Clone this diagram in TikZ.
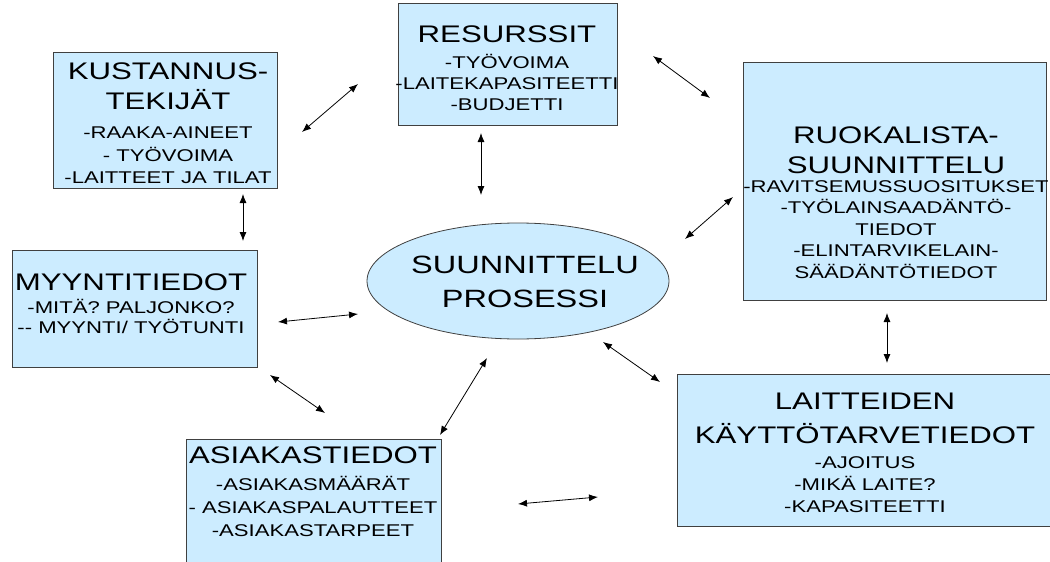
\documentclass[tikz,border=0pt]{standalone}
\usepackage{fontspec}
\setmainfont{Liberation Sans}[FakeStretch=1.3]
\usetikzlibrary{arrows.meta,shapes.geometric}

\definecolor{boxblue}{RGB}{204,236,255}
\newcommand{\listfont}{\fontsize{17}{21}\selectfont}

\tikzset{
	box/.style = {draw = black!75, fill = boxblue, line width = 0.8pt, inner sep = 0pt},
	boxtext/.style = {align = center, inner sep = 0pt, anchor = base, font = \fontsize{24}{30}\selectfont},
	arr/.style = {{Latex[length = 9pt, width = 7pt]}-{Latex[length = 9pt, width = 7pt]}, line width = 0.8pt}
}

\begin{document}
\begin{tikzpicture}[x = 1pt, y = -1pt]
		\useasboundingbox (0, 0) rectangle (1050, 562);
		\node[box, minimum width = 224pt, minimum height = 136pt] (kust) at (165, 120) {};
			\node[boxtext] (kusttext) at (168, 183) {KUSTANNUS-\\TEKIJÄT\\[-1pt]{\listfont -RAAKA-AINEET}\\[-7pt]{\listfont - TYÖVOIMA}\\[-8pt]{\listfont -LAITTEET JA TILAT}};
		\node[box, minimum width = 219pt, minimum height = 122pt] (res) at (507.5, 64) {};
			\node[boxtext] (restext) at (507, 110) {RESURSSIT\\[-4pt]{\listfont -TYÖVOIMA}\\[-9pt]{\listfont -LAITEKAPASITEETTI}\\[-9pt]{\listfont -BUDJETTI}};
		\node[box, minimum width = 303pt, minimum height = 238pt] (ruok) at (894.5, 181) {};
			\node[boxtext] (ruoktext) at (896, 278) {RUOKALISTA-\\SUUNNITTELU\\[-11pt]{\listfont -RAVITSEMUSSUOSITUKSET}\\[-8.5pt]{\listfont -TYÖLAINSAADÄNTÖ-}\\[-8.5pt]{\listfont TIEDOT}\\[-8.5pt]{\listfont -ELINTARVIKELAIN-}\\[-8.5pt]{\listfont SÄÄDÄNTÖTIEDOT}};
		\node[box, minimum width = 245pt, minimum height = 117pt] (myy) at (134.5, 308.5) {};
			\node[boxtext] (myytext) at (131, 333) {MYYNTITIEDOT\\[-7pt]{\listfont -MITÄ? PALJONKO?}\\[-10pt]{\listfont -{}- MYYNTI/ TYÖTUNTI}};
		\node[box, minimum width = 255pt, minimum height = 140pt] (asi) at (313.5, 509) {};
			\node[boxtext] (asitext) at (313, 536) {ASIAKASTIEDOT\\[-3pt]{\listfont -ASIAKASMÄÄRÄT}\\[-7pt]{\listfont - ASIAKASPALAUTTEET}\\[-7pt]{\listfont -ASIAKASTARPEET}};
		\node[box, minimum width = 380pt, minimum height = 152pt] (lai) at (867, 450) {};
			\node[boxtext] (laitext) at (865, 512) {LAITTEIDEN\\[4pt]KÄYTTÖTARVETIEDOT\\[-5pt]{\listfont -AJOITUS}\\[-8pt]{\listfont -MIKÄ LAITE?}\\[-8pt]{\listfont -KAPASITEETTI}};
		\node[box, ellipse, minimum width = 302pt, minimum height = 116pt] (proc) at (518, 281) {};
			\node[boxtext, font = \fontsize{25}{30}\selectfont] (proctext) at (525, 307) {SUUNNITTELU\\[4pt]PROSESSI};
		\foreach \n/\xa/\ya/\xb/\yb in {kr/302/132/358/84, rp/481/133/481/195, rr/653/56/710/98, km/243/194/243/241, mp/278/322/358/314, pr/685/239/733/197, rl/887/313/887/363, pl/603/342/660/382, ma/270/375/325/413, pa/487/358/440/435, al/518/504/598/497} {
			\coordinate (\n a) at (\xa, \ya);
			\coordinate (\n b) at (\xb, \yb);
			\draw[arr] (\n a) -- (\n b);
		}
	\end{tikzpicture}
\end{document}
